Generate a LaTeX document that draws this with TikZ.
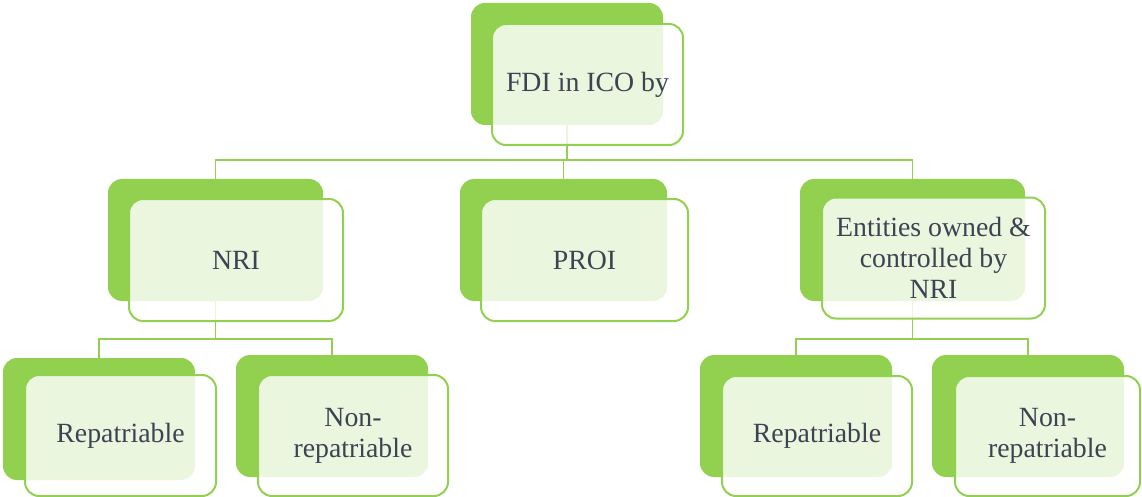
\documentclass[tikz,border=0pt]{standalone}
\usepackage{fontspec}
\setmainfont{Liberation Serif}
\definecolor{gr}{HTML}{92D050}
\definecolor{tx}{HTML}{3B4453}
\begin{document}
\begin{tikzpicture}[x=1pt,y=-1pt,
  back/.style={fill=gr, rounded corners=14pt, inner sep=0pt, outer sep=0pt},
  front/.style={draw=gr, line width=2pt, fill=white, fill opacity=0.82, text opacity=1,
    rounded corners=14pt, inner sep=0pt, outer sep=0pt, text=tx,
    font=\fontsize{27.8}{31}\selectfont, align=center},
  conn/.style={draw=gr, line width=1.8pt}]
\useasboundingbox (0,0) rectangle (1142,497);
% back (green) boxes
\node[back, minimum width=192pt, minimum height=122pt] (topB) at (567,64) {};
\node[back, minimum width=215pt, minimum height=122pt] (nriB) at (215.5,240) {};
\node[back, minimum width=207pt, minimum height=122pt] (proiB) at (563.5,240) {};
\node[back, minimum width=225pt, minimum height=122pt] (entB) at (912.5,240) {};
\node[back, minimum width=192pt, minimum height=122pt] (repaB) at (99,419) {};
\node[back, minimum width=192pt, minimum height=122pt] (nonaB) at (332,416) {};
\node[back, minimum width=192pt, minimum height=122pt] (repbB) at (796,416) {};
\node[back, minimum width=192pt, minimum height=122pt] (nonbB) at (1028,416) {};
% connectors
\coordinate (j1) at (567,160);
\coordinate (j2) at (215.5,339);
\coordinate (j3) at (912.5,339);
\draw[conn] (topB.south) -- (j1);
\draw[conn] (j1) -| (nriB.north);
\draw[conn] (j1) -| (proiB.north);
\draw[conn] (j1) -| (entB.north);
\draw[conn] (nriB.south) -- (j2);
\draw[conn] (j2) -| (repaB.north);
\draw[conn] (j2) -| (nonaB.north);
\draw[conn] (entB.south) -- (j3);
\draw[conn] (j3) -| (repbB.north);
\draw[conn] (j3) -| (nonbB.north);
% front boxes
\node[front, minimum width=191pt, minimum height=121pt] (top) at (587.5,84.5) {FDI in ICO by};
\node[front, minimum width=214pt, minimum height=122pt] (nri) at (236,260) {NRI};
\node[front, minimum width=207pt, minimum height=122pt] (proi) at (584.5,260) {PROI};
\node[front, minimum width=223pt, minimum height=121pt] (ent) at (933.5,258) {Entities owned \&\\controlled by\\NRI};
\node[front, minimum width=191pt, minimum height=121pt] (repa) at (120.5,435.5) {Repatriable};
\node[front, minimum width=190pt, minimum height=121pt] (nona) at (353,435.5) {Non-\\repatriable};
\node[front, minimum width=190pt, minimum height=120pt] (repb) at (817,436) {Repatriable};
\node[front, minimum width=185pt, minimum height=120pt] (nonb) at (1047.5,436) {Non-\\repatriable};
\end{tikzpicture}
\end{document}
